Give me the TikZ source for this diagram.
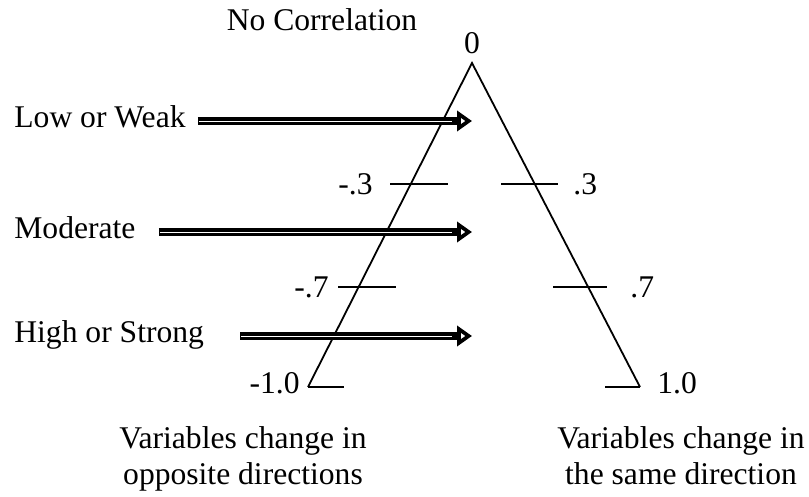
\documentclass[tikz,border=0pt]{standalone}
\usepackage{fontspec}
\setmainfont{Liberation Serif}
\usetikzlibrary{arrows.meta}

\begin{document}
\begin{tikzpicture}[
    x=0.5pt, y=-0.5pt,
    every node/.style={
        font=\fontsize{15.8}{18}\selectfont,
        inner sep=1pt
    },
    levelname/.style={anchor=west, text height=1.4ex, text depth=0pt},
    leg/.style={line width=0.9pt},
    tickmark/.style={line width=0.6pt},
    bigarrow/.style={
        shorten <=#1, line width=4.2pt,
        -{Triangle[open, length=7.5pt, width=10pt, line width=2.4pt]},
        postaction={draw=white, line width=0.4pt, -,
            shorten <=#1+0.5pt, shorten >=10pt}
    }
]
\useasboundingbox (0,0) rectangle (809,497);

% the triangle
\coordinate (apex) at (472,63);
\coordinate (lbase) at (308,387);
\coordinate (rbase) at (640,387);
\draw[leg] (lbase) -- (apex) -- (rbase);

\node (zero) at (472,43) {0};
\node (nocorr) at (322,20) {No Correlation};

% tick marks
\draw[tickmark] (390,184) -- (448,184);
\draw[tickmark] (501,184) -- (558,184);
\draw[tickmark] (338,287) -- (396,287);
\draw[tickmark] (553,287) -- (607,287);
\draw[tickmark] (lbase) -- (344,387);
\draw[tickmark] (605,387) -- (rbase);

\node[anchor=east] (neg3) at (375,184) {-.3};
\node[anchor=west] (pos3) at (571,184) {.3};
\node[anchor=east] (neg7) at (331,287) {-.7};
\node[anchor=west] (pos7) at (628,287) {.7};
\node[anchor=east] (neg10) at (302,383) {-1.0};
\node[anchor=west] (pos10) at (655,383) {1.0};

% strength levels
\node[levelname] (low) at (12,121) {Low or Weak};
\node[levelname] (moderate) at (12,232) {Moderate};
\node[levelname] (high) at (12,336) {High or Strong};

\coordinate (lowend) at (472,121);
\coordinate (modend) at (472,232);
\coordinate (highend) at (472,336);

\draw[bigarrow=5pt] (low) -- (lowend);
\draw[bigarrow=10.5pt] (moderate) -- (modend);
\draw[bigarrow=17pt] (high) -- (highend);

% directions
\node[align=center, anchor=north] (opposite) at (243,424) {Variables change in\\opposite directions};
\node[align=center, anchor=north] (same) at (681,424) {Variables change in\\the same direction};
\end{tikzpicture}
\end{document}
